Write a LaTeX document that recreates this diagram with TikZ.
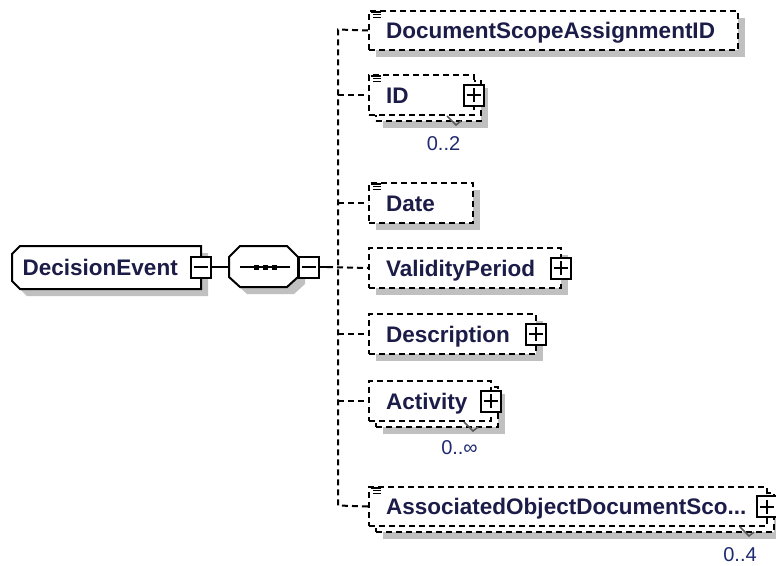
\documentclass[tikz,border=0pt]{standalone}
\usepackage{fontspec}
\setmainfont{Liberation Sans}
\usetikzlibrary{calc,shadows}
\pgfdeclarelayer{background}
\pgfsetlayers{background,main}
\definecolor{namecol}{HTML}{1C1C48}
\definecolor{occcol}{HTML}{1F2A70}
\definecolor{shadowgray}{HTML}{C0C0C0}
\definecolor{tickgray}{HTML}{5A5A5A}
\tikzset{
  edge/.style={line width=2pt, draw=black},
  dashededge/.style={edge, dash pattern=on 6pt off 4pt},
  elembox/.style={rectangle, draw=black, line width=2pt, dash pattern=on 6pt off 4pt,
    fill=white, inner sep=0pt, anchor=north west},
  boxshadow/.style={shadow xshift=7pt, shadow yshift=-7pt, general shadow={fill=shadowgray}},
  xbox/.style={rectangle, draw=black, line width=2pt, solid, fill=white, inner sep=0pt,
    minimum width=20pt, minimum height=21pt},
  minusbox/.style={xbox, path picture={
    \draw[line width=2pt] ([xshift=-7pt]path picture bounding box.center)
      -- ([xshift=7pt]path picture bounding box.center);}},
  plusbox/.style={xbox, path picture={
    \draw[line width=2pt] ([xshift=-7pt]path picture bounding box.center)
      -- ([xshift=7pt]path picture bounding box.center)
      ([yshift=-7pt]path picture bounding box.center)
      -- ([yshift=7pt]path picture bounding box.center);}},
  ename/.style={font=\bfseries\fontsize{22.5pt}{26pt}\selectfont, text=namecol,
    inner sep=0pt, anchor=base west},
  occ/.style={font=\fontsize{20pt}{24pt}\selectfont, text=occcol, inner sep=0pt},
  occtick/.style={line width=1.5pt, draw=tickgray, solid},
  simpleicon/.pic={\draw[line width=1.4pt, solid] (3,2) -- (13,2) (5,4.6) -- (13,4.6) (5,7.2) -- (13,7.2);}
}
\begin{document}
\begin{tikzpicture}[x=1pt,y=-1pt]
\useasboundingbox (0,0) rectangle (776,565);
\clip (0,0) rectangle (776,565);

% ---- DecisionEvent element ----
\fill[shadowgray] (27,253) -- (208,253) -- (208,296) -- (27,296) -- (19,288) -- (19,261) -- cycle;
\draw[edge, fill=white] (20,246) -- (201,246) -- (201,289) -- (20,289) -- (12,281) -- (12,254) -- cycle;
\node[ename] (detext) at (22.5,275) {DecisionEvent};
\node[minusbox] (deexp) at (200.5,267) {};

% ---- sequence compositor ----
\fill[shadowgray] (247,253) -- (294,253) -- (305,264) -- (305,284) -- (294,294) -- (247,294) -- (236,284) -- (236,264) -- cycle;
\draw[edge, fill=white] (240,246) -- (287,246) -- (298,257) -- (298,277) -- (287,287) -- (240,287) -- (229,277) -- (229,257) -- cycle;
\coordinate (seqin) at (229,267);
\draw[edge] (240,267) -- (290,267);
\foreach \cx in {256.5,265,274}{\fill (\cx-2.5,264.5) rectangle (\cx+2.5,269.5);}
\node[minusbox] (seqexp) at (308.5,267) {};

% ---- child elements ----
\node[elembox, boxshadow, minimum width=369pt, minimum height=39pt] (dsa) at (368,10) {};
\pic at (dsa.north west) {simpleicon};
\node[ename] (dsatext) at ($(dsa.west)+(18,8)$) {DocumentScopeAssignmentID};

\node[elembox, boxshadow, minimum width=105pt, minimum height=40pt] (idback) at (375,80) {};
\node[elembox, minimum width=105pt, minimum height=40pt] (id) at (368,74) {};
\pic at (id.north west) {simpleicon};
\node[ename] (idtext) at ($(id.west)+(18,8)$) {ID};
\node[plusbox] (idexp) at ($(id.east)+(-1.5,0)$) {};
\draw[occtick] ($(id.south east)+(-28,0)$) -- ++(9,9) -- ++(5,-4);
\node[occ] (idocc) at ($(id.south east)+(-31.5,28)$) {0..2};

\node[elembox, boxshadow, minimum width=104pt, minimum height=40pt] (date) at (368,182) {};
\pic at (date.north west) {simpleicon};
\node[ename] (datetext) at ($(date.west)+(18,8)$) {Date};

\node[elembox, boxshadow, minimum width=192pt, minimum height=40pt] (vp) at (368,247) {};
\node[ename] (vptext) at ($(vp.west)+(18,8)$) {ValidityPeriod};
\node[plusbox] (vpexp) at ($(vp.east)+(-1.5,0)$) {};

\node[elembox, boxshadow, minimum width=167pt, minimum height=40pt] (desc) at (368,313) {};
\node[ename] (desctext) at ($(desc.west)+(18,8)$) {Description};
\node[plusbox] (descexp) at ($(desc.east)+(-1.5,0)$) {};

\node[elembox, boxshadow, minimum width=122pt, minimum height=40pt] (actback) at (375,386) {};
\node[elembox, minimum width=122pt, minimum height=40pt] (act) at (368,380) {};
\node[ename] (acttext) at ($(act.west)+(18,8)$) {Activity};
\node[plusbox] (actexp) at ($(act.east)+(-1.5,0)$) {};
\draw[occtick] ($(act.south east)+(-28,0)$) -- ++(9,9) -- ++(5,-4);
\node[occ] (actocc) at ($(act.south east)+(-32.5,26)$) {0..∞};

\node[elembox, boxshadow, minimum width=398pt, minimum height=39pt] (aodback) at (375,492) {};
\node[elembox, minimum width=398pt, minimum height=39pt] (aod) at (368,486) {};
\pic at (aod.north west) {simpleicon};
\node[ename] (aodtext) at ($(aod.west)+(18,8)$) {AssociatedObjectDocumentSco...};
\node[plusbox] (aodexp) at ($(aod.east)+(-1.5,0)$) {};
\draw[occtick] ($(aod.south east)+(-28,0)$) -- ++(9,9) -- ++(5,-4);
\node[occ] (aodocc) at ($(aod.south east)+(-28,28)$) {0..4};

% ---- connectors, kept behind the boxes ----
\begin{pgfonlayer}{background}
  \fill[white] (0,0) rectangle (776,565);
  \coordinate (hub) at (327,267);
  \coordinate (ttop) at (338,29.5);
  \coordinate (tbot) at (338,505.5);
  \draw[edge] (deexp.east) -- (seqin);
  \draw[edge] (seqexp.east) -- (hub);
  \draw[dashededge] (hub) -- (vp.west);
  \draw[dashededge] (dsa.west) -- (ttop) -- (tbot) -- (aod.west);
  \foreach \n in {id,date,desc,act}{\draw[dashededge] (ttop |- \n.west) -- (\n.west);}
\end{pgfonlayer}
\end{tikzpicture}
\end{document}
